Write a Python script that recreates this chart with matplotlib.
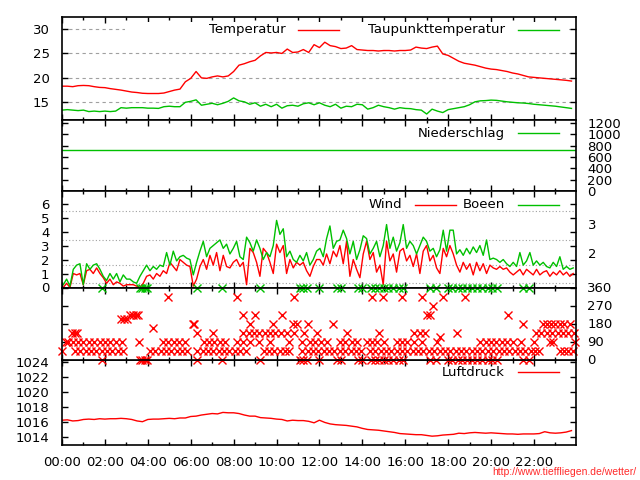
import numpy as np
import matplotlib
matplotlib.use('Agg')
import matplotlib.pyplot as plt
import matplotlib.transforms as mtransforms
from matplotlib.lines import Line2D
from matplotlib.patches import Rectangle

### colours / sizes
RED = '#ff0000'
GREEN = '#00c000'
FS = 9.5
W, H = 640, 480

### data
# temperature + dew point, every 15 min starting 00:00
temp = [18.3, 18.3, 18.2, 18.4, 18.45, 18.4, 18.2, 18.05, 18.0, 17.8, 17.65, 17.5,
        17.3, 17.1, 17.0, 16.85, 16.8, 16.8, 16.8, 16.9, 17.2, 17.5, 17.7, 19.2,
        19.9, 21.3, 20.0, 19.9, 20.2, 20.4, 20.2, 20.4, 21.3, 22.6, 22.9, 23.3,
        23.6, 24.5, 25.2, 25.1, 25.2, 25.0, 25.9, 25.2, 25.3, 25.8, 25.2, 26.8,
        26.2, 27.3, 26.6, 26.4, 26.0, 26.1, 26.6, 25.8, 25.7, 25.6, 25.6, 25.5,
        25.6, 25.6, 25.5, 25.6, 25.6, 25.7, 26.3, 26.1, 26.0, 26.3, 26.5, 24.9,
        24.6, 24.0, 23.4, 23.0, 22.8, 22.6, 22.3, 22.0, 21.8, 21.7, 21.5, 21.3,
        21.0, 20.8, 20.5, 20.2, 20.1, 20.0, 19.9, 19.8, 19.7, 19.6, 19.5, 19.35]
dewpoint = [13.4, 13.5, 13.4, 13.3, 13.4, 13.1, 13.2, 13.1, 13.2, 13.1, 13.2, 13.9,
            13.8, 13.9, 13.9, 13.9, 13.8, 13.8, 13.75, 14.1, 14.2, 14.1, 14.1, 15.0,
            15.2, 15.5, 14.4, 14.6, 14.8, 14.5, 14.8, 15.2, 15.9, 15.3, 15.1, 14.6,
            14.9, 14.2, 14.6, 14.1, 14.6, 13.8, 14.3, 14.4, 14.2, 14.7, 14.9, 14.5,
            14.9, 14.4, 14.1, 14.6, 13.8, 14.2, 14.1, 14.6, 14.5, 13.6, 13.9, 14.4,
            14.1, 13.9, 13.6, 13.9, 13.75, 13.7, 13.5, 13.4, 12.6, 13.6, 13.2, 12.9,
            13.5, 13.7, 13.9, 14.1, 14.5, 15.1, 15.3, 15.35, 15.45, 15.4, 15.25, 15.1,
            15.0, 14.9, 14.85, 14.75, 14.6, 14.5, 14.4, 14.3, 14.2, 14.05, 13.9, 13.75]
pressure = [1016.2, 1016.25, 1016.1, 1016.15, 1016.3, 1016.35, 1016.3, 1016.4, 1016.35, 1016.4,
            1016.4, 1016.45, 1016.4, 1016.3, 1016.1, 1016.0, 1016.3, 1016.35, 1016.35, 1016.4,
            1016.45, 1016.4, 1016.5, 1016.5, 1016.7, 1016.75, 1016.9, 1017.0, 1017.1, 1017.05,
            1017.25, 1017.2, 1017.2, 1017.1, 1016.9, 1016.75, 1016.75, 1016.55, 1016.5, 1016.45,
            1016.35, 1016.3, 1016.1, 1016.2, 1016.15, 1016.15, 1016.05, 1015.85, 1016.2, 1015.9,
            1015.7, 1015.6, 1015.55, 1015.5, 1015.4, 1015.3, 1015.1, 1014.95, 1014.9, 1014.85,
            1014.75, 1014.65, 1014.55, 1014.4, 1014.35, 1014.3, 1014.25, 1014.25, 1014.15, 1014.05,
            1014.1, 1014.2, 1014.25, 1014.3, 1014.45, 1014.4, 1014.5, 1014.55, 1014.5, 1014.45,
            1014.5, 1014.45, 1014.4, 1014.35, 1014.35, 1014.3, 1014.35, 1014.35, 1014.35, 1014.4,
            1014.65, 1014.5, 1014.45, 1014.5, 1014.6, 1014.8]
rain = [730, 730]
rain_hours = [0.0, 23.96]

# wind and gusts (m/s), 154 samples spread over the day
wind = [0.0, 0.3, 0.0, 1.0, 0.9, 1.0, 0.2, 1.2, 1.3, 1.0, 1.4, 1.0, 0.7, 0.3, 0.6, 0.2,
        0.4, 0.3, 0.1, 0.2, 0.2, 0.2, 0.1, 0.0, 0.3, 0.8, 0.9, 0.6, 1.0, 0.8, 1.2, 1.0,
        1.8, 1.5, 1.2, 2.0, 1.8, 1.6, 1.5, 0.1, 0.6, 1.5, 2.0, 1.3, 2.3, 1.6, 2.5, 1.2,
        2.3, 1.5, 1.4, 1.8, 2.0, 1.5, 1.8, 0.2, 2.8, 2.5, 1.8, 0.8, 2.8, 2.5, 1.8, 1.0,
        3.1, 2.5, 3.0, 1.0, 2.0, 1.4, 1.8, 1.6, 1.8, 1.2, 0.8, 1.5, 2.0,
        2.0, 1.6, 2.4, 1.7, 2.6, 2.2, 3.0, 1.7, 3.3, 0.8, 2.0, 1.3, 0.7, 2.4, 3.3, 2.0,
        2.5, 1.1, 1.6, 0.2, 3.3, 1.9, 2.4, 1.1, 2.6, 2.8, 1.9, 2.3, 1.5, 2.4, 1.0, 2.6,
        3.0, 1.9, 2.3, 1.4, 1.0, 2.8, 2.2, 3.0, 2.4,
        1.6, 1.1, 1.8, 1.3, 1.7, 0.9, 1.8, 1.2, 1.7, 1.0, 1.6, 1.4, 1.3, 1.5, 1.3, 1.4,
        1.1, 0.9, 1.1, 1.3, 0.9, 1.3, 1.1, 0.9, 1.3, 0.9, 1.1, 1.2, 0.8, 1.1, 0.9, 1.2,
        0.9, 1.1, 0.8, 1.0]
gusts = [0.2, 0.6, 0.1, 1.3, 1.6, 1.7, 0.2, 1.7, 1.3, 1.6, 1.7, 1.3, 0.8, 0.5, 1.0, 0.6,
         1.0, 0.4, 0.9, 0.6, 0.6, 0.4, 0.3, 0.8, 1.2, 1.6, 1.2, 1.5, 1.3, 1.6, 1.5, 2.5,
         1.6, 2.6, 1.9, 2.2, 2.3, 2.1, 2.0, 0.9, 1.8, 2.6, 3.3, 2.2, 2.8, 3.0, 3.2, 3.4,
         2.8, 3.1, 2.4, 2.8, 3.3, 2.2, 2.0, 3.6, 3.2, 2.6, 3.4, 2.8, 2.0, 2.5, 2.2, 3.0,
         4.8, 3.8, 4.2, 2.2, 2.6, 2.0, 1.8, 2.3, 1.9, 2.5, 1.6, 2.0, 2.6,
         2.8, 2.2, 3.5, 4.4, 2.8, 3.3, 3.4, 4.1, 3.5, 2.4, 3.3, 2.0, 2.7, 3.7, 3.5, 2.4,
         2.8, 3.3, 2.2, 3.0, 4.5, 2.8, 3.6, 2.6, 3.2, 4.5, 2.8, 3.3, 3.0, 2.4, 3.0, 3.6,
         3.3, 2.6, 2.8, 2.2, 2.7, 4.1, 2.6, 4.1, 4.1,
         2.4, 2.7, 2.3, 2.8, 2.4, 2.9, 2.5, 3.0, 2.3, 3.4, 2.0, 2.1, 2.0, 1.8, 2.0, 1.7,
         1.5, 1.8, 1.5, 2.5, 1.6, 1.9, 2.5, 1.6, 1.9, 1.6, 1.8, 1.5, 1.4, 1.8, 1.5, 2.2,
         1.3, 1.5, 1.3, 1.4]
bft_limits = [0.3, 1.6, 3.4, 5.5]
bft_labels = ['2', '3']
bft_label_pos = [2.35, 4.4]

# wind direction samples, hour of day per compass direction
dir_0_hours = [1.85, 3.65, 3.75, 3.85, 3.95, 6.3, 7.45, 9.25, 11.1, 11.25, 11.4, 12.0,
               12.8, 13.0, 13.8, 14.0, 14.4, 14.6, 14.8, 15.0, 15.2, 15.45, 15.7, 15.9,
               17.15, 17.45, 18.0, 18.2, 18.45, 18.65, 18.9, 19.1, 19.35, 19.6, 19.85,
               20.05, 20.3, 21.5, 21.75]
dir_45_hours = [0.0, 0.6, 0.85, 1.1, 1.35, 1.6, 1.85, 2.1, 2.35, 2.6, 2.85,
                4.1, 4.35, 4.6, 4.85, 5.1, 5.35, 5.6, 5.85,
                6.3, 6.55, 6.8, 7.05, 7.3, 7.55, 7.8, 8.05, 8.3, 8.6,
                9.4, 9.65, 9.9, 10.15, 10.4, 10.6,
                11.2, 11.45, 11.7, 11.95, 12.2, 12.45, 12.7, 12.95, 13.2, 13.45, 13.7, 13.95,
                14.35, 14.6, 14.85, 15.1, 15.35, 15.6, 15.85, 16.1, 16.35, 16.6, 16.85, 17.1,
                17.35, 17.6, 17.85, 18.1, 18.35, 18.6, 18.85, 19.1, 19.35, 19.6, 19.85, 20.1,
                20.35, 20.6, 20.85, 21.1, 21.35, 21.6, 21.85, 22.05, 22.25,
                23.2, 23.4, 23.6, 23.8]
dir_90_hours = [0.2, 0.3, 0.5, 0.75, 1.0, 1.25, 1.5, 1.75, 2.0, 2.25, 2.5, 2.8, 3.6,
                4.7, 4.95, 5.2, 5.45, 5.75, 6.6, 6.85, 7.1, 7.35, 7.6,
                8.15, 8.45, 8.75, 9.2, 9.7, 10.6, 11.2, 11.55, 11.8, 12.05, 12.35,
                12.95, 13.2, 13.5, 13.75, 14.2, 14.45, 14.7, 15.0, 15.6, 15.85, 16.1, 16.4,
                16.8, 17.5, 19.5, 19.75, 20.0, 20.25, 20.5, 20.75, 21.0, 21.4, 22.0,
                22.75, 22.9, 23.9]
dir_112_hours = [17.6]
dir_135_hours = [0.45, 0.6, 0.7, 6.3, 7.05, 8.45, 8.7, 8.95, 9.2, 9.45, 9.7, 9.95, 10.2,
                 10.5, 10.8, 11.3, 11.9, 13.3, 14.8, 16.4, 16.7, 16.9, 18.4,
                 22.1, 22.35, 22.6, 22.85, 23.1, 23.35, 23.6, 23.85]
dir_157_hours = [4.25]
dir_180_hours = [6.1, 6.15, 8.75, 9.85, 10.75, 10.95, 11.45, 12.65, 21.5,
                 22.4, 22.6, 22.8, 23.0, 23.2, 23.4, 23.7]
dir_202_hours = [2.75, 2.9, 3.05]
dir_225_hours = [3.15, 3.3, 3.45, 3.55, 8.45, 9.0, 10.25, 17.0, 17.15, 20.8]
dir_270_hours = [17.3]
dir_315_hours = [4.95, 8.15, 10.8, 14.45, 14.95, 15.85, 16.8, 17.75, 18.8]
dir_rows = [(0, dir_0_hours), (45, dir_45_hours), (90, dir_90_hours), (112.5, dir_112_hours),
            (135, dir_135_hours), (157.5, dir_157_hours), (180, dir_180_hours),
            (202.5, dir_202_hours), (225, dir_225_hours), (270, dir_270_hours),
            (315, dir_315_hours)]

time_labels = ['00:00', '02:00', '04:00', '06:00', '08:00', '10:00',
               '12:00', '14:00', '16:00', '18:00', '20:00', '22:00']


def fx(x):
    return x / W


def fy(y):
    return 1 - y / H


def style(ax):
    '''
    gnuplot like frame: ticks inside on all four sides.
    '''
    ax.set_xlim(0, 23.96)
    ax.set_xticks(np.arange(0, 24, 2))
    ax.set_xticks(np.arange(1, 24, 2), minor=True)
    ax.tick_params(which='both', direction='in', top=True, right=True, width=1,
                   labelsize=FS, pad=9, labelbottom=False)
    ax.tick_params(which='major', length=4.5)
    ax.tick_params(which='minor', length=2.5)
    for s in ax.spines.values():
        s.set_linewidth(1.2)
    ax.set_axisbelow(True)


def key(y, entries):
    '''
    draw key entries (label, colour, text right edge, line start) in figure pixels
    '''
    for label, col, xt, xl in entries:
        fig.text(fx(xt), fy(y), label, ha='right', va='center', fontsize=FS)
        fig.add_artist(Line2D([fx(xl), fx(xl + 41)], [fy(y), fy(y)], color=col, lw=1))


fig = plt.figure(figsize=(6.4, 4.8), dpi=100)
X0, X1 = 62, 576
panels = [(17, 119.5), (119.5, 191), (191, 287.5), (287.5, 359.5), (359.5, 445)]
axes = []
for top, bot in panels:
    ax = fig.add_axes([fx(X0), fy(bot), fx(X1) - fx(X0), (bot - top) / H])
    style(ax)
    axes.append(ax)
ax1, ax2, ax3, ax4, ax5 = axes

# temperature
t15 = np.arange(len(temp)) * 0.25
ax1.plot(t15, temp, color=RED, lw=1, zorder=2)
ax1.plot(t15, dewpoint, color=GREEN, lw=1, zorder=2)
ax1.set_ylim(11.48, 32.46)
ax1.set_yticks([15, 20, 25, 30])
ax1.yaxis.grid(True, linestyle=(0, (3, 3)), color='#a0a0a0', lw=0.8)
ax1.add_patch(Rectangle((fx(125), fy(38)), fx(567) - fx(125), (38 - 22) / H,
                        transform=fig.transFigure, facecolor='white', edgecolor='none', zorder=1))
key(30, [('Temperatur', RED, 286, 298), ('Taupunkttemperatur', GREEN, 505, 518)])

# precipitation
ax2.plot(rain_hours, rain, color=GREEN, lw=1)
ax2.set_ylim(0, 1262)
ax2.set_yticks(np.arange(0, 1201, 200))
ax2.tick_params(axis='y', labelleft=False, labelright=True, pad=8)
key(133, [('Niederschlag', GREEN, 505, 518)])

# wind
tw = np.linspace(0.06, 23.83, len(wind))
ax3.plot(tw, wind, color=RED, lw=1, zorder=2)
ax3.plot(tw, gusts, color=GREEN, lw=1, zorder=2)
for b in bft_limits:
    ax3.axhline(b, color='#a0a0a0', lw=0.8, linestyle=(0, (1, 2)), zorder=1)
ax3.set_ylim(0, 6.9)
ax3.set_yticks(range(7))
trans = mtransforms.blended_transform_factory(fig.transFigure, ax3.transData)
for lab, pos in zip(bft_labels, bft_label_pos):
    ax3.text(fx(592), pos, lab, transform=trans, ha='center', va='center',
             fontsize=FS, clip_on=False)
key(205, [('Wind', RED, 402, 415), ('Boeen', GREEN, 505, 518)])

# wind direction
for deg, hrs in dir_rows:
    ax4.plot(hrs, [deg] * len(hrs), 'x', color=RED, ms=5.5, mew=1, clip_on=False)
ax4.plot(dir_0_hours, [360] * len(dir_0_hours), 'x', color=GREEN, ms=5.5, mew=1, clip_on=False)
ax4.set_ylim(0, 360)
ax4.set_yticks([0, 90, 180, 270, 360])
ax4.tick_params(axis='y', labelleft=False, labelright=True, pad=8)
ax4.set_zorder(10)

# pressure
ax5.plot(t15, pressure, color=RED, lw=1)
ax5.set_ylim(1012.86, 1024.38)
ax5.set_yticks(range(1014, 1025, 2))
ax5.tick_params(axis='x', labelbottom=True, pad=8)
ax5.set_xticklabels(time_labels)
key(372, [('Luftdruck', RED, 505, 518)])

fig.text(fx(636), fy(472), 'http://www.tieffliegen.de/wetter/', color='#ff2a2a',
         fontsize=7.5, family='Liberation Sans', ha='right', va='center')

fig.savefig('out.png', dpi=100)
